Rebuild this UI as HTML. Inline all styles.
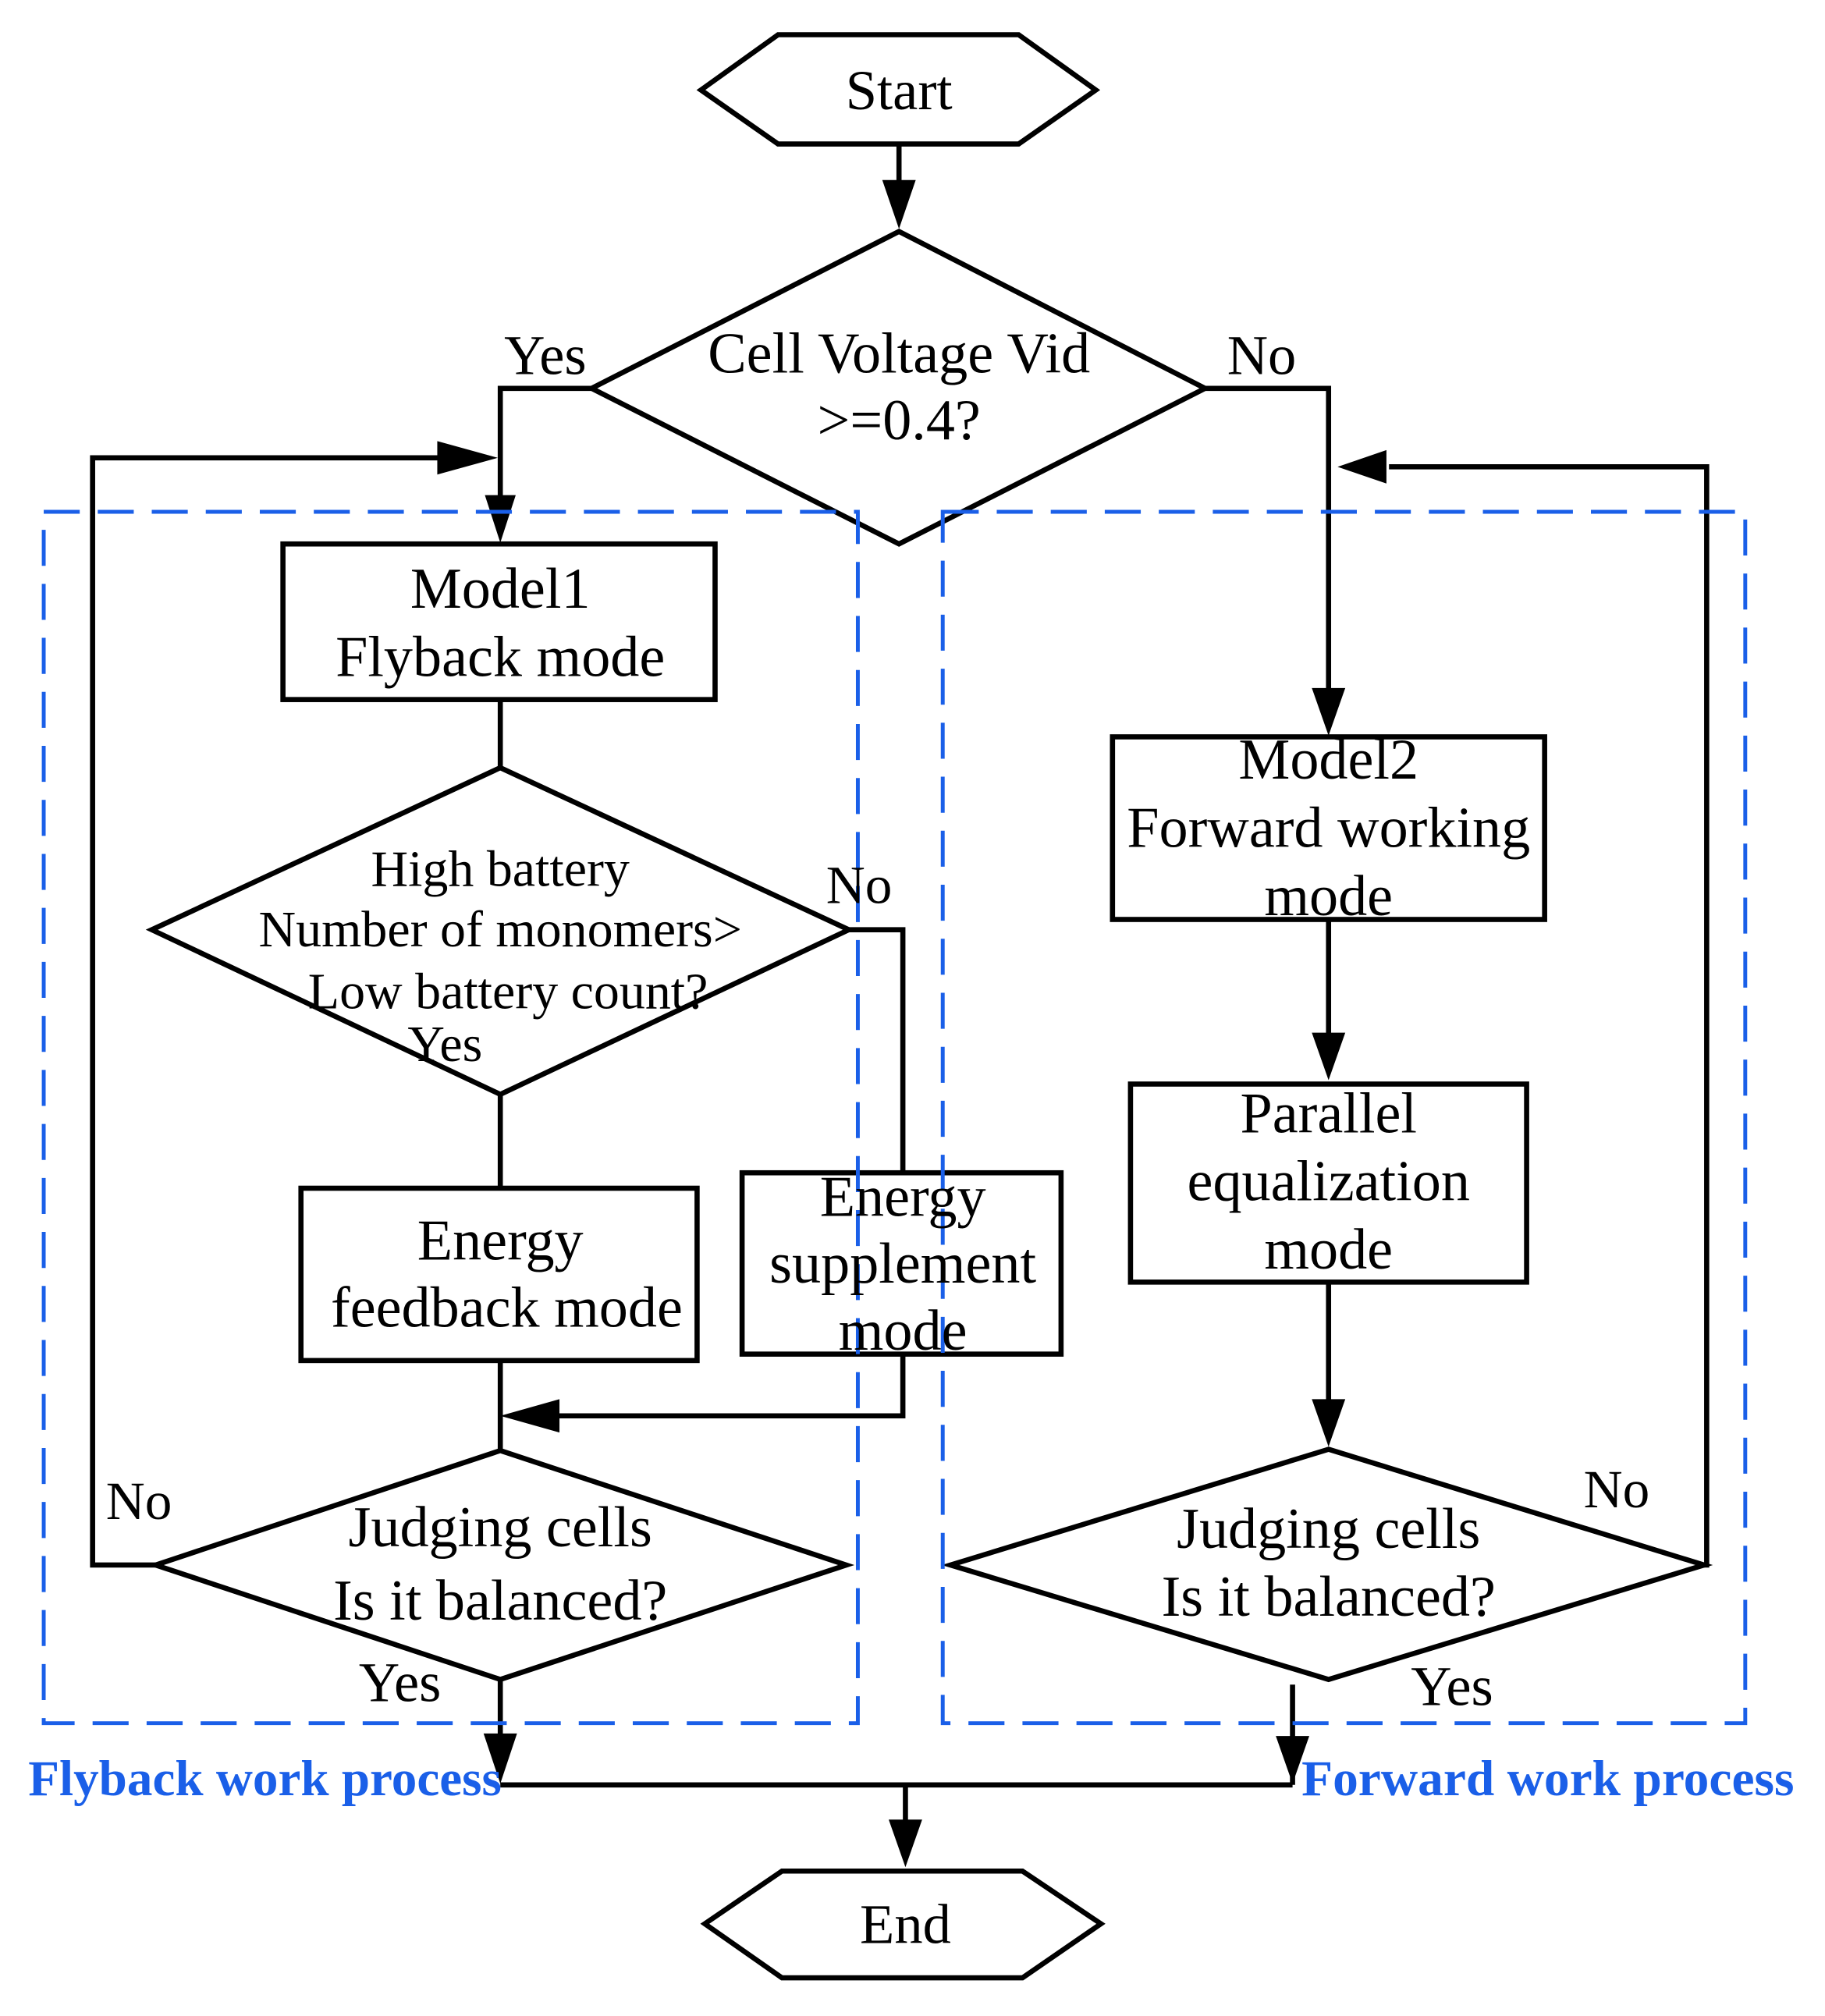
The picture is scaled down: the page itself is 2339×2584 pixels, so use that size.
<!DOCTYPE html>
<html><head><meta charset="utf-8"><style>html,body{margin:0;padding:0;background:#fff}svg{display:block}</style></head>
<body>
<svg width="2339" height="2584" viewBox="0 0 1419 1567.7" preserveAspectRatio="none" xmlns="http://www.w3.org/2000/svg">
<g fill="none" stroke="#000" stroke-width="4">
<polygon points="545,70 605,27 792,27 852,70 792,112 605,112"/>
<line x1="699" y1="112" x2="699" y2="145"/>
<polygon points="699,180 460,302 699,423 937,302"/>
<polyline points="460,302 389,302 389,390"/>
<polyline points="937,302 1033,302 1033,540"/>
<polyline points="121,1217 72,1217 72,356 345,356"/>
<polyline points="1325,1217 1327,1217 1327,363 1080,363"/>
<rect x="220" y="423" width="336" height="121"/>
<line x1="389" y1="544" x2="389" y2="597"/>
<polygon points="389,597 118,723 389,851 660,723"/>
<polyline points="660,723 702,723 702,912"/>
<line x1="389" y1="851" x2="389" y2="924"/>
<rect x="234" y="924" width="308" height="134"/>
<rect x="577" y="912" width="248" height="141"/>
<polyline points="702,1053 702,1101 430,1101"/>
<line x1="389" y1="1058" x2="389" y2="1128"/>
<polygon points="389,1128 121,1217 389,1306 658,1217"/>
<line x1="389" y1="1306" x2="389" y2="1355"/>
<line x1="389" y1="1388" x2="1005" y2="1388"/>
<rect x="865" y="573" width="336" height="142"/>
<line x1="1033" y1="715" x2="1033" y2="808"/>
<rect x="879" y="843" width="308" height="154"/>
<line x1="1033" y1="997" x2="1033" y2="1092"/>
<polygon points="1033,1127 739,1217 1033,1306 1325,1217"/>
<line x1="1005" y1="1310" x2="1005" y2="1388"/>
<line x1="704" y1="1388" x2="704" y2="1420"/>
<polygon points="548,1496 608,1455 795,1455 856,1496 795,1538 608,1538"/>
</g>
<g fill="#000">
<polygon points="686,140 712,140 699,178"/>
<polygon points="377,385 401,385 389,422"/>
<polygon points="1020,535 1046,535 1033,572"/>
<polygon points="340,343 340,369 387,356"/>
<polygon points="1078,350 1078,376 1040,363"/>
<polygon points="435,1088 435,1114 389,1101"/>
<polygon points="1020,803 1046,803 1033,840"/>
<polygon points="1020,1088 1046,1088 1033,1125"/>
<polygon points="376,1348 402,1348 389,1387"/>
<polygon points="992,1350 1018,1350 1005,1387"/>
<polygon points="691,1415 717,1415 704,1452"/>
</g>
<g fill="none" stroke="#1a5fe8" stroke-width="3" stroke-dasharray="28,14">
<rect x="34" y="398" width="633" height="942"/>
<rect x="733" y="398" width="624" height="942"/>
</g>
<g font-family="Liberation Serif, serif" fill="#000" text-anchor="middle" dominant-baseline="central">
<text x="699" y="70" font-size="44">Start</text>
<text x="699" y="275" font-size="45">Cell Voltage Vid</text>
<text x="699" y="327" font-size="45">&gt;=0.4?</text>
<text x="424" y="276" font-size="44">Yes</text>
<text x="981" y="276" font-size="44">No</text>
<text x="389" y="458" font-size="45">Model1</text>
<text x="389" y="511" font-size="45">Flyback mode</text>
<text x="389" y="676" font-size="40">High battery</text>
<text x="389" y="723" font-size="40">Number of monomers&gt;</text>
<text x="395" y="771" font-size="40">Low battery count?</text>
<text x="346" y="812" font-size="40">Yes</text>
<text x="668" y="688" font-size="42">No</text>
<text x="389" y="965" font-size="45">Energy</text>
<text x="394" y="1017" font-size="45">feedback mode</text>
<text x="702" y="931" font-size="45">Energy</text>
<text x="702" y="983" font-size="45">supplement</text>
<text x="702" y="1035" font-size="45">mode</text>
<text x="389" y="1188" font-size="45">Judging cells</text>
<text x="389" y="1245" font-size="45">Is it balanced?</text>
<text x="108" y="1167" font-size="42">No</text>
<text x="311" y="1308" font-size="44">Yes</text>
<text x="1033" y="591" font-size="45">Model2</text>
<text x="1033" y="644" font-size="45">Forward working</text>
<text x="1033" y="697" font-size="45">mode</text>
<text x="1033" y="866" font-size="45">Parallel</text>
<text x="1033" y="919" font-size="45">equalization</text>
<text x="1033" y="972" font-size="45">mode</text>
<text x="1033" y="1189" font-size="45">Judging cells</text>
<text x="1033" y="1242" font-size="45">Is it balanced?</text>
<text x="1257" y="1158" font-size="42">No</text>
<text x="1129" y="1311" font-size="44">Yes</text>
<text x="704" y="1496" font-size="44">End</text>
</g>
<g font-family="Liberation Serif, serif" font-weight="bold" fill="#1a5fe8" font-size="39" dominant-baseline="central">
<text x="22" y="1383" textLength="368" lengthAdjust="spacingAndGlyphs">Flyback work process</text>
<text x="1012" y="1383" textLength="383" lengthAdjust="spacingAndGlyphs">Forward work process</text>
</g>
</svg>
</body></html>
